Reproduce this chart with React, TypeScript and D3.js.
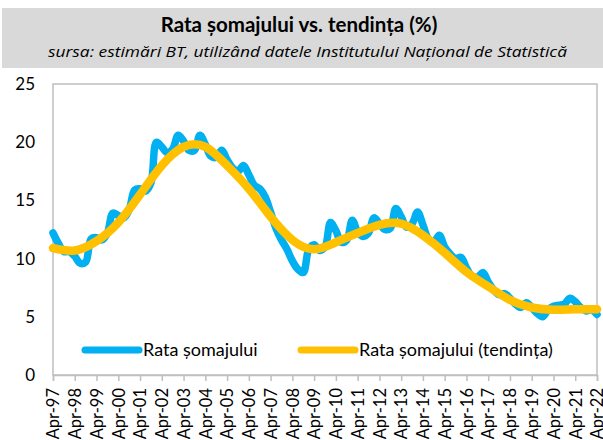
import { useEffect, useRef } from 'react';
import * as d3 from 'd3';

// quarterly series, Q2-1997 .. Q2-2022
const startQuarter = new Date(1997, 3, 1);
const unemployment = [
  12.2, 11.3, 10.6,
  10.6, 10.2, 9.6, 9.7,
  11.7, 11.8, 11.6, 12.2,
  13.9, 13.7, 13.5, 14.2,
  15.9, 16.0, 15.8, 16.5,
  20.0, 19.6, 19.1, 19.4,
  20.6, 20.1, 19.3, 19.3,
  20.6, 19.8, 18.8, 18.7,
  19.3, 18.5, 17.8, 17.5,
  18.0, 17.2, 16.3, 16.0,
  15.3, 14.0, 12.6, 11.6,
  10.8, 9.8, 9.1, 8.8,
  10.8, 11.2, 10.7, 11.0,
  13.1, 12.4, 11.4, 11.6,
  13.3, 12.3, 11.9, 12.2,
  13.5, 13.0, 12.5, 12.6,
  14.3, 13.6, 12.7, 13.0,
  14.0, 12.9, 11.7, 11.4,
  12.0, 11.0, 10.4, 10.0,
  10.1, 9.2, 8.5, 8.4,
  8.8, 8.0, 7.3, 6.9,
  7.0, 6.6, 6.1, 5.8,
  6.2, 5.8, 5.3, 5.0,
  5.6, 5.9, 6.0, 6.1,
  6.6, 6.3, 5.8, 5.5,
  5.6, 5.2,
];

// trend, read at April of each year
const trendYears = [
  1997, 1998, 1999, 2000, 2001, 2002, 2003, 2004, 2005, 2006, 2007, 2008, 2009,
  2010, 2011, 2012, 2013, 2014, 2015, 2016, 2017, 2018, 2019, 2020, 2021, 2022,
];
const trend = [
  10.9, 10.7, 11.5, 13.1, 15.5, 18.0, 19.6, 19.6, 18.0, 16.0, 13.6, 11.6, 10.8,
  11.4, 12.2, 12.9, 13.0, 12.0, 10.5, 8.85, 7.6, 6.45, 5.8, 5.6, 5.65, 5.65,
];

const yTicks = [0, 5, 10, 15, 20, 25];
const legendLabels = ['Rata șomajului', 'Rata șomajului (tendința)'];

const BLUE = '#00B0F0';
const GOLD = '#FFC000';
const GRID = '#BFBFBF';
const FONT = 'Lato, "Open Sans", sans-serif';

const UnemploymentChart = () => {
  const svgRef = useRef<SVGSVGElement | null>(null);

  useEffect(() => {
    const width = 603;
    const height = 440;
    const left = 53, right = 597, top = 84, bottom = 375;

    const svg = d3.select(svgRef.current);
    svg.selectAll('*').remove();
    svg.attr('width', width).attr('height', height);

    // header band
    svg.append('rect')
      .attr('x', 2).attr('y', 8)
      .attr('width', width - 2).attr('height', 60)
      .attr('fill', '#D9D9D9');

    svg.append('text')
      .attr('x', 299).attr('y', 32)
      .attr('text-anchor', 'middle')
      .style('font-family', FONT)
      .style('font-size', '20.5px')
      .style('font-weight', 'bold')
      .style('fill', '#000')
      .text('Rata șomajului vs. tendința (%)');

    svg.append('text')
      .attr('x', 48).attr('y', 57)
      .attr('textLength', 519)
      .attr('lengthAdjust', 'spacingAndGlyphs')
      .style('font-family', '"Open Sans", sans-serif')
      .style('font-size', '15px')
      .style('font-style', 'italic')
      .style('fill', '#000')
      .text('sursa: estimări BT, utilizând datele Institutului Național de Statistică');

    const x = d3.scaleTime()
      .domain([new Date(1997, 3, 1), new Date(2022, 3, 1)])
      .range([left, right]);
    const y = d3.scaleLinear().domain([0, 25]).range([bottom, top]);

    // plot frame
    svg.append('rect')
      .attr('x', left).attr('y', top)
      .attr('width', right - left).attr('height', bottom - top)
      .attr('fill', 'none')
      .attr('stroke', GRID)
      .attr('stroke-width', 1.5);

    // y axis
    const yAxis = svg.append('g')
      .attr('transform', `translate(${left},0)`)
      .call(d3.axisLeft(y).tickValues(yTicks).tickSize(0).tickPadding(18));
    yAxis.select('.domain').remove();
    yAxis.selectAll('text')
      .style('font-family', FONT)
      .style('font-size', '17px')
      .style('fill', '#000');

    // x axis
    const xTicks = trendYears.map(yr => new Date(yr, 3, 1));
    const xAxis = svg.append('g')
      .attr('transform', `translate(0,${bottom})`)
      .call(d3.axisBottom(x)
        .tickValues(xTicks)
        .tickSize(6)
        .tickFormat(d => `Apr-${d3.timeFormat('%y')(d as Date)}`));
    xAxis.select('.domain').attr('stroke', GRID).attr('stroke-width', 1.5);
    xAxis.selectAll('line').attr('stroke', GRID).attr('stroke-width', 1.5);
    xAxis.selectAll('text')
      .attr('transform', 'rotate(-90)')
      .attr('x', -13)
      .attr('y', 0)
      .attr('dy', '0.35em')
      .attr('text-anchor', 'end')
      .style('font-family', FONT)
      .style('font-size', '16.5px')
      .style('fill', '#000');

    const quarterDate = (i: number) => d3.timeMonth.offset(startQuarter, 3 * i);

    const blueLine = d3.line<number>()
      .x((_, i) => x(quarterDate(i)))
      .y(d => y(d))
      .curve(d3.curveCatmullRom.alpha(0.5));

    svg.append('path')
      .datum(unemployment)
      .attr('d', blueLine)
      .attr('fill', 'none')
      .attr('stroke', BLUE)
      .attr('stroke-width', 7.5)
      .attr('stroke-linejoin', 'round')
      .attr('stroke-linecap', 'round');

    const trendLine = d3.line<number>()
      .x((_, i) => x(new Date(trendYears[i], 3, 1)))
      .y(d => y(d))
      .curve(d3.curveNatural);

    svg.append('path')
      .datum(trend)
      .attr('d', trendLine)
      .attr('fill', 'none')
      .attr('stroke', GOLD)
      .attr('stroke-width', 8.5)
      .attr('stroke-linecap', 'round');

    // legend
    const legendItems = [
      { label: legendLabels[0], color: BLUE, x0: 85, x1: 139 },
      { label: legendLabels[1], color: GOLD, x0: 301, x1: 355 },
    ];
    legendItems.forEach(item => {
      svg.append('line')
        .attr('x1', item.x0).attr('x2', item.x1)
        .attr('y1', 350).attr('y2', 350)
        .attr('stroke', item.color)
        .attr('stroke-width', 7)
        .attr('stroke-linecap', 'round');
      svg.append('text')
        .attr('x', item.x1 + 4).attr('y', 356)
        .style('font-family', FONT)
        .style('font-size', '18px')
        .style('fill', '#000')
        .text(item.label);
    });
  }, []);

  return <svg ref={svgRef} style={{ position: 'absolute', left: 0, top: 0 }}></svg>;
};

export default function App() {
  return <UnemploymentChart />;
}
